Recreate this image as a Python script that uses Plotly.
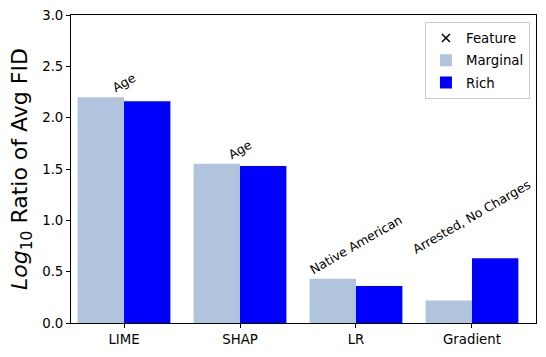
import plotly.graph_objects as go

methods = ["LIME", "SHAP", "LR", "Gradient"]
marginal = [2.20, 1.55, 0.43, 0.22]
rich = [2.16, 1.53, 0.36, 0.63]
features = ["Age", "Age", "Native American", "Arrested, No Charges"]
yticks = [0.0, 0.5, 1.0, 1.5, 2.0, 2.5, 3.0]

FONT = "DejaVu Sans"

fig = go.Figure()
fig.add_trace(go.Scatter(x=[methods[0]], y=[None], mode="markers", name="Feature",
                         legendgroup="f",
                         marker=dict(symbol="x-thin", size=8, color="black",
                                     line=dict(width=1.5, color="black"))))
fig.add_trace(go.Bar(x=methods, y=marginal, name="Marginal", legendgroup="m",
                     marker=dict(color="#b0c4de", line=dict(width=0))))
fig.add_trace(go.Bar(x=methods, y=rich, name="Rich", legendgroup="r",
                     marker=dict(color="#0000ff", line=dict(width=0))))

for m, a, b, f in zip(methods, marginal, rich, features):
    fig.add_annotation(x=m, y=max(a, b), text=f, showarrow=False,
                       textangle=-30, xanchor="center", yanchor="bottom",
                       font=dict(family=FONT, size=12.5, color="black"), yshift=-1)

fig.update_layout(
    width=546, height=357,
    margin=dict(l=71, r=10, t=15, b=34),
    plot_bgcolor="white", paper_bgcolor="white",
    barmode="group", bargap=0.2, bargroupgap=0,
    font=dict(family=FONT, size=13, color="black"),
    legend=dict(x=0.987, y=0.978, xanchor="right", yanchor="top",
                bgcolor="rgba(255,255,255,0.8)", bordercolor="#cccccc", borderwidth=1,
                font=dict(size=13.3), traceorder="grouped", tracegroupgap=2),
    showlegend=True,
)
fig.update_xaxes(type="category", categoryorder="array", categoryarray=methods,
                 range=[-0.457, 3.552], showline=True, linecolor="black", linewidth=1,
                 mirror=True, ticks="outside", ticklen=4, tickcolor="black",
                 showgrid=False, tickfont=dict(size=13.3), automargin=False)
fig.update_yaxes(range=[0, 3.0], tickvals=yticks, ticktext=[f"{v:.1f}" for v in yticks],
                 showline=True, linecolor="black", linewidth=1, mirror=True,
                 ticks="outside", ticklen=4, tickcolor="black", showgrid=False,
                 zeroline=False, tickfont=dict(size=13.3), automargin=False,
                 title=dict(text="<i>Log</i><sub>10</sub> Ratio of Avg FID",
                            font=dict(size=22), standoff=8))

fig.write_html("out.html", config={"displayModeBar": False},
               post_script="document.body.style.margin='0';document.body.style.overflow='hidden';")
